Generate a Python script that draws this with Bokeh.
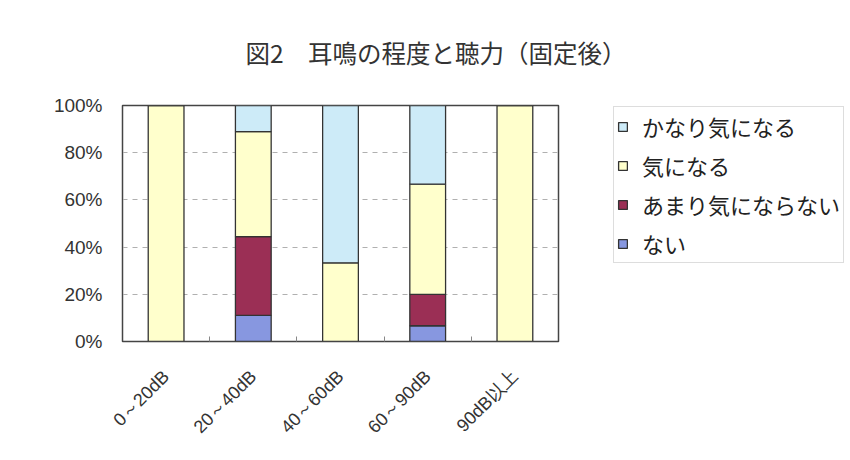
import math
from bokeh.plotting import figure
from bokeh.models import (Range1d, FixedTicker, Legend, LegendItem,
                          ColumnDataSource)
from bokeh.embed import file_html
from bokeh.resources import INLINE

# ---- data ----
categories = ["0～20dB", "20～40dB", "40～60dB", "60～90dB", "90dB以上"]
series_names = ["ない", "あまり気にならない", "気になる", "かなり気になる"]
nai = [0, 1, 0, 1, 0]
amari = [0, 3, 0, 2, 0]
kininaru = [1, 4, 1, 7, 1]
kanari = [0, 1, 2, 5, 0]
y_ticks = [0, 0.2, 0.4, 0.6, 0.8, 1.0]
y_tick_labels = ["0%", "20%", "40%", "60%", "80%", "100%"]
colors = ["#8797E0", "#9B2F55", "#FFFFCC", "#CDEBF8"]
title_text = "図2　耳鳴の程度と聴力（固定後）"

# ---- normalise to shares ----
totals = [a + b + c + d for a, b, c, d in zip(nai, amari, kininaru, kanari)]
xs = [i + 0.5 for i in range(len(categories))]
data = {"x": xs}
for name, vals in zip(series_names, [nai, amari, kininaru, kanari]):
    data[name] = [v / t for v, t in zip(vals, totals)]
src = ColumnDataSource(data)

p = figure(frame_width=436, frame_height=236, output_backend="svg",
           toolbar_location=None,
           x_range=Range1d(0, len(categories)), y_range=Range1d(0, 1),
           min_border_left=122, min_border_right=0, min_border_top=105,
           min_border_bottom=119)
p.background_fill_color = "white"
p.border_fill_color = "white"
p.outline_line_color = "#444444"
p.outline_line_width = 1.5

renderers = p.vbar_stack(series_names, x="x", width=0.41, source=src,
                         fill_color=colors, line_color="#333333",
                         line_width=1.3)

# title
p.title.text = title_text
p.title.align = "left"
p.title.offset = 123
p.title.vertical_align = "top"
p.title.standoff = 67
p.title.text_font = "Noto Sans CJK JP"
p.title.text_font_size = "24.5px"
p.title.text_font_style = "normal"
p.title.text_color = "#333333"

# axes
p.xaxis.ticker = FixedTicker(ticks=xs, minor_ticks=[1, 2, 3, 4])
p.xaxis.major_label_overrides = {x: c for x, c in zip(xs, categories)}
p.xaxis.major_label_orientation = math.pi / 4
p.xaxis.major_tick_line_color = None
p.xaxis.minor_tick_in = 5
p.xaxis.minor_tick_out = 0
p.xaxis.minor_tick_line_color = "#888888"
p.xaxis.axis_line_color = "#444444"
p.xaxis.major_label_text_font = "Liberation Sans"
p.xaxis.major_label_text_font_size = "18px"
p.xaxis.major_label_text_color = "#333333"
p.xaxis.major_label_standoff = 26

p.yaxis.ticker = FixedTicker(ticks=y_ticks)
p.yaxis.major_label_overrides = {t: l for t, l in zip(y_ticks, y_tick_labels)}
p.yaxis.major_tick_line_color = None
p.yaxis.minor_tick_line_color = None
p.yaxis.axis_line_color = "#444444"
p.yaxis.major_label_text_font = "Liberation Sans"
p.yaxis.major_label_text_font_size = "19px"
p.yaxis.major_label_text_color = "#333333"
p.yaxis.major_label_standoff = 14

p.xgrid.grid_line_color = None
p.ygrid.grid_line_color = "#b0b0b0"
p.ygrid.grid_line_dash = "5 5"
p.ygrid.grid_line_width = 1

# legend
items = [LegendItem(label=n, renderers=[r]) for n, r in zip(series_names, renderers)]
items.reverse()
legend = Legend(items=items, location=(55, 78))
legend.label_text_font = "Noto Sans CJK JP"
legend.label_text_font_size = "22px"
legend.label_text_color = "#222222"
legend.glyph_width = 11
legend.glyph_height = 11
legend.label_standoff = 14
legend.label_height = 28
legend.spacing = 7
legend.padding = 3
legend.margin = 0
legend.border_line_color = "#bbbbbb"
legend.border_line_width = 1
legend.background_fill_alpha = 1
p.add_layout(legend, "right")

open("out.html", "w").write(file_html(p, INLINE))
